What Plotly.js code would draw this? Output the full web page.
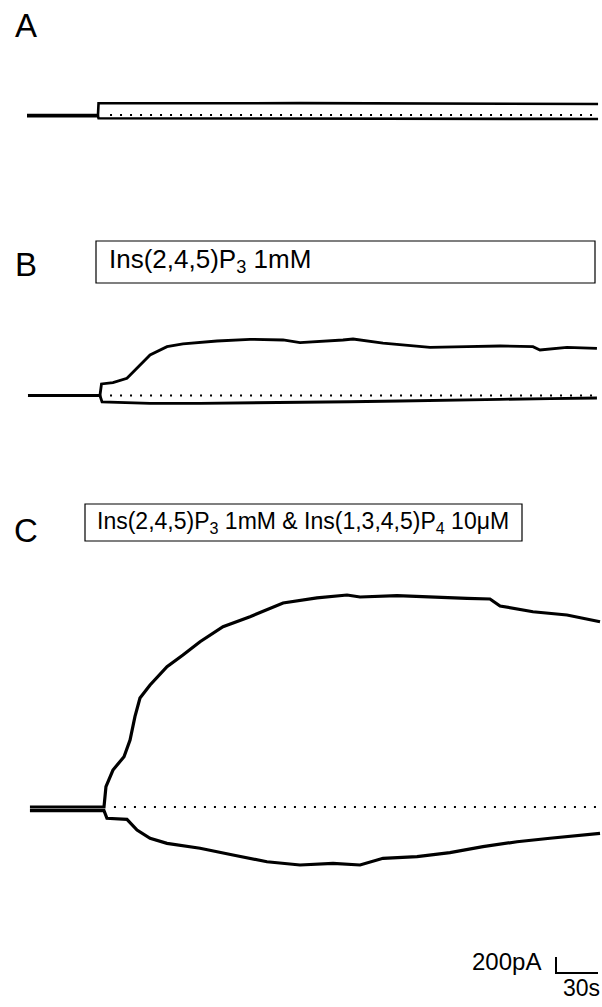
<!DOCTYPE html>
<html><head><meta charset="utf-8">
<script src="https://cdn.plot.ly/plotly-3.0.1.min.js"></script>
<style>html,body{margin:0;padding:0;background:#fff}#chart{width:602px;height:1007px}</style>
</head><body><div id="chart"></div>
<script>
// ---------------- DATA (time in s, current in pA) ----------------
const panelLabels = ['A', 'B', 'C'];
const solutionB = 'Ins(2,4,5)P<sub>3</sub> 1mM';
const solutionC = 'Ins(2,4,5)P<sub>3</sub> 1mM &amp; Ins(1,3,4,5)P<sub>4</sub> 10\u03bcM';

// Panel A (control)
const timeA  = [0, 50.7, 51.1, 87.9, 123.6, 159.3, 195.0, 230.7, 266.4, 302.1, 337.9, 373.6, 407.9];
const upperA = [0, 0, 146, 144, 146, 146, 148, 146, 144, 142, 140, 140, 138];
const lowerA = [-15, -15, -40, -42, -42, -44, -44, -45, -46, -47, -48, -49, -50];
const zeroA  = [59.3, 407.9];

// Panel B
const timeUpperB = [0.7, 52.1, 53.2, 61.4, 71.4, 78.6, 87.9, 100.0, 111.4, 135.7, 159.3, 182.9, 195.0, 225.7, 232.9, 254.3, 287.9, 314.3, 337.9, 361.4, 366.4, 385.7, 407.1];
const upperB     = [0, 0, 144, 160, 215, 340, 506, 610, 644, 681, 702, 694, 660, 694, 706, 656, 602, 610, 619, 610, 569, 602, 590];
const timeLowerB = [0.7, 52.1, 53.6, 87.9, 123.6, 159.3, 195.0, 230.7, 266.4, 302.1, 337.9, 373.6, 407.1];
const lowerB     = [0, 0, -81, -98, -98, -94, -90, -78, -69, -56, -48, -40, -31];
const zeroB      = [59.3, 407.1];

// Panel C
const timeUpperC = [2.1, 55.0, 56.4, 61.4, 69.3, 73.6, 77.1, 80.7, 87.9, 100.0, 111.4, 123.6, 140.0, 159.3, 182.9, 207.1, 228.6, 237.9, 264.3, 290.0, 314.3, 330.7, 337.9, 361.4, 385.7, 409.3];
const upperC     = [0, 0, 254, 462, 629, 838, 1129, 1363, 1525, 1754, 1900, 2066, 2254, 2379, 2550, 2613, 2650, 2625, 2641, 2621, 2609, 2600, 2513, 2441, 2400, 2316];
const timeLowerC = [2.1, 55.0, 57.1, 71.4, 78.6, 87.9, 100.0, 123.6, 147.1, 171.4, 195.0, 218.6, 237.9, 254.3, 278.6, 302.1, 325.7, 350.0, 373.6, 397.1, 409.3];
const lowerC     = [-46, -46, -141, -154, -288, -391, -454, -516, -600, -684, -725, -704, -725, -641, -621, -571, -496, -434, -391, -350, -329];
const zeroC      = [62.1, 409.3];

// scale bar
const scaleTime = 30;     // s
const scaleCurrent = 200; // pA
const scaleTimeLabel = '30s';
const scaleCurrentLabel = '200pA';

// ---------------- LAYOUT GEOMETRY ----------------
const W = 602, H = 1007;
const pxPerSec = 1.4, pAperPx = 12.5, x0px = 27;
function panel(topPx, botPx, basePx) {
  return {
    domain: [1 - botPx / H, 1 - topPx / H],
    range: [-(botPx - basePx) * pAperPx, (basePx - topPx) * pAperPx],
    visible: false, fixedrange: true
  };
}
const font = 'Liberation Sans, Arial, Helvetica, sans-serif';
const traceLine = (w) => ({ color: '#000', width: w, shape: 'linear' });
const dotLine = { color: '#000', width: 1.8, dash: '2px,8px' };

function tr(x, y, ax, w) {
  return { x: x, y: y, yaxis: ax, xaxis: 'x', mode: 'lines', line: traceLine(w), hoverinfo: 'skip', showlegend: false };
}
function zero(xs, ax) {
  return { x: xs, y: [0, 0], yaxis: ax, xaxis: 'x', mode: 'lines', line: dotLine, hoverinfo: 'skip', showlegend: false };
}

const data = [
  zero(zeroA, 'y'), tr(timeA, upperA, 'y', 2.6), tr(timeA, lowerA, 'y', 2.6),
  zero(zeroB, 'y2'), tr(timeUpperB, upperB, 'y2', 2.8), tr(timeLowerB, lowerB, 'y2', 2.8),
  zero(zeroC, 'y3'), tr(timeUpperC, upperC, 'y3', 3.2), tr(timeLowerC, lowerC, 'y3', 3.2)
];

const px2paperX = (p) => p / W, px2paperY = (p) => 1 - p / H;
const sbT0 = (556 - x0px) / pxPerSec;     // scale bar corner position (layout)
const sbI0 = -(973 - 807) * pAperPx;

const layout = {
  width: W, height: H,
  margin: { l: 0, r: 0, t: 0, b: 0, pad: 0 },
  paper_bgcolor: '#fff', plot_bgcolor: 'rgba(0,0,0,0)',
  showlegend: false,
  font: { family: font, color: '#000' },
  xaxis: { range: [(0 - x0px) / pxPerSec, (W - x0px) / pxPerSec], domain: [0, 1], visible: false, fixedrange: true },
  yaxis: panel(60, 160, 115),
  yaxis2: panel(300, 440, 395.5),
  yaxis3: panel(560, 1000, 807),
  shapes: [
    { type: 'rect', xref: 'paper', yref: 'paper', x0: px2paperX(96), x1: px2paperX(595), y0: px2paperY(283), y1: px2paperY(241), line: { color: '#000', width: 1.2 }, fillcolor: 'rgba(0,0,0,0)' },
    { type: 'rect', xref: 'paper', yref: 'paper', x0: px2paperX(85), x1: px2paperX(522), y0: px2paperY(541), y1: px2paperY(504), line: { color: '#000', width: 1.2 }, fillcolor: 'rgba(0,0,0,0)' },
    { type: 'path', xref: 'x', yref: 'y3',
      path: 'M ' + sbT0 + ' ' + (sbI0 + scaleCurrent) + ' L ' + sbT0 + ' ' + sbI0 + ' L ' + (sbT0 + scaleTime) + ' ' + sbI0,
      line: { color: '#000', width: 2 } }
  ],
  annotations: [
    { text: panelLabels[0], xref: 'paper', yref: 'paper', x: px2paperX(26), y: px2paperY(26), xanchor: 'center', yanchor: 'middle', showarrow: false, font: { size: 33, family: font } },
    { text: panelLabels[1], xref: 'paper', yref: 'paper', x: px2paperX(26), y: px2paperY(265), xanchor: 'center', yanchor: 'middle', showarrow: false, font: { size: 33, family: font } },
    { text: panelLabels[2], xref: 'paper', yref: 'paper', x: px2paperX(26), y: px2paperY(530), xanchor: 'center', yanchor: 'middle', showarrow: false, font: { size: 33, family: font } },
    { text: solutionB, xref: 'paper', yref: 'paper', x: px2paperX(107), y: px2paperY(260), xanchor: 'left', yanchor: 'middle', showarrow: false, font: { size: 26, family: font } },
    { text: solutionC, xref: 'paper', yref: 'paper', x: px2paperX(95), y: px2paperY(522), xanchor: 'left', yanchor: 'middle', showarrow: false, font: { size: 23, family: font } },
    { text: scaleCurrentLabel, xref: 'paper', yref: 'paper', x: px2paperX(543), y: px2paperY(961), xanchor: 'right', yanchor: 'middle', showarrow: false, font: { size: 24, family: font } },
    { text: scaleTimeLabel, xref: 'paper', yref: 'paper', x: px2paperX(581), y: px2paperY(988), xanchor: 'center', yanchor: 'middle', showarrow: false, font: { size: 23, family: font } }
  ]
};

Plotly.newPlot('chart', data, layout, { staticPlot: true, displayModeBar: false });
</script>
</body></html>
